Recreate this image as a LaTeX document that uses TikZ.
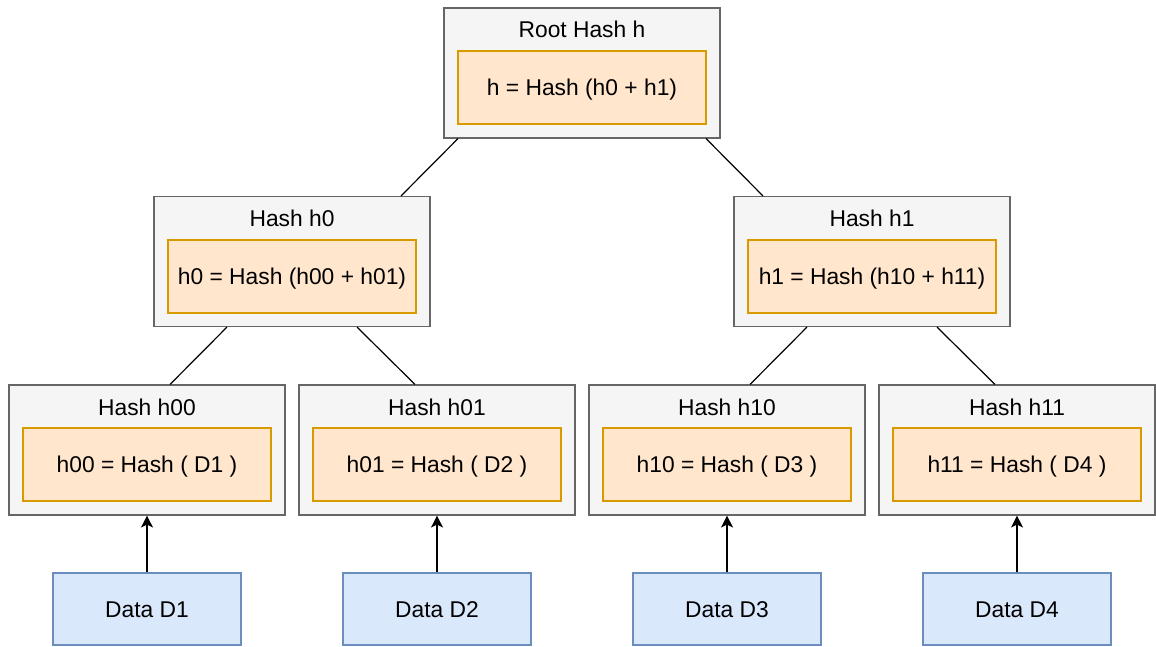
\documentclass[tikz,border=0pt]{standalone}
\usepackage{fontspec}
\setmainfont{Liberation Sans}
\usetikzlibrary{arrows.meta}
\definecolor{outerfill}{HTML}{F5F5F5}
\definecolor{outerline}{HTML}{666666}
\definecolor{innerfill}{HTML}{FFE6CC}
\definecolor{innerline}{HTML}{D79B00}
\definecolor{datafill}{HTML}{DAE8FC}
\definecolor{dataline}{HTML}{6C8EBF}
\tikzset{
  txt/.style={text height=16pt, text depth=0pt, inner sep=0pt},
  outerbox/.style={draw=outerline, fill=outerfill, line width=1.1pt, minimum width=276pt, minimum height=130pt, inner sep=0pt},
  innerbox/.style={txt, draw=innerline, fill=innerfill, line width=1.1pt, minimum width=248pt, minimum height=73pt},
  databox/.style={txt, draw=dataline, fill=datafill, line width=1.1pt, minimum width=188pt, minimum height=72pt},
  titletext/.style={txt},
  link/.style={draw=black, line width=1.2pt},
  feed/.style={draw=black, line width=1.3pt, -{Stealth[length=12pt,width=12pt,inset=3pt]}}
}
\begin{document}
\begin{tikzpicture}[x=1pt,y=-1pt,font=\fontsize{22.8}{27}\selectfont]
\useasboundingbox (0,0) rectangle (1156,646);
% root
\node[outerbox] (root) at (582,73) {};
\node[titletext] (troot) at (582,29.5) {Root Hash h};
\node[innerbox] (iroot) at (582,87.5) {h = Hash (h0 + h1)};
% level 1
\node[outerbox] (h0) at (292,261.5) {};
\node[titletext] (th0) at (292,218) {Hash h0};
\node[innerbox] (ih0) at (292,276.5) {h0 = Hash (h00 + h01)};
\node[outerbox] (h1) at (872,261.5) {};
\node[titletext] (th1) at (872,218) {Hash h1};
\node[innerbox] (ih1) at (872,276.5) {h1 = Hash (h10 + h11)};
% leaves
\node[outerbox] (h00) at (147,450) {};
\node[titletext] (th00) at (147,407) {Hash h00};
\node[innerbox] (ih00) at (147,464.5) {h00 = Hash ( D1 )};
\node[outerbox] (h01) at (437,450) {};
\node[titletext] (th01) at (437,407) {Hash h01};
\node[innerbox] (ih01) at (437,464.5) {h01 = Hash ( D2 )};
\node[outerbox] (h10) at (727,450) {};
\node[titletext] (th10) at (727,407) {Hash h10};
\node[innerbox] (ih10) at (727,464.5) {h10 = Hash ( D3 )};
\node[outerbox] (h11) at (1017,450) {};
\node[titletext] (th11) at (1017,407) {Hash h11};
\node[innerbox] (ih11) at (1017,464.5) {h11 = Hash ( D4 )};
% data
\node[databox] (d1) at (147,609) {Data D1};
\node[databox] (d2) at (437,609) {Data D2};
\node[databox] (d3) at (727,609) {Data D3};
\node[databox] (d4) at (1017,609) {Data D4};
% tree links
\draw[link] ([xshift=-124pt]root.south) -- ([xshift=109pt]h0.north);
\draw[link] ([xshift=124pt]root.south) -- ([xshift=-109pt]h1.north);
\draw[link] ([xshift=-65pt]h0.south) -- ([xshift=23pt]h00.north);
\draw[link] ([xshift=65pt]h0.south) -- ([xshift=-22pt]h01.north);
\draw[link] ([xshift=-65pt]h1.south) -- ([xshift=23pt]h10.north);
\draw[link] ([xshift=65pt]h1.south) -- ([xshift=-22pt]h11.north);
% data arrows
\draw[feed] (d1.north) -- (h00.south);
\draw[feed] (d2.north) -- (h01.south);
\draw[feed] (d3.north) -- (h10.south);
\draw[feed] (d4.north) -- (h11.south);
\end{tikzpicture}
\end{document}
